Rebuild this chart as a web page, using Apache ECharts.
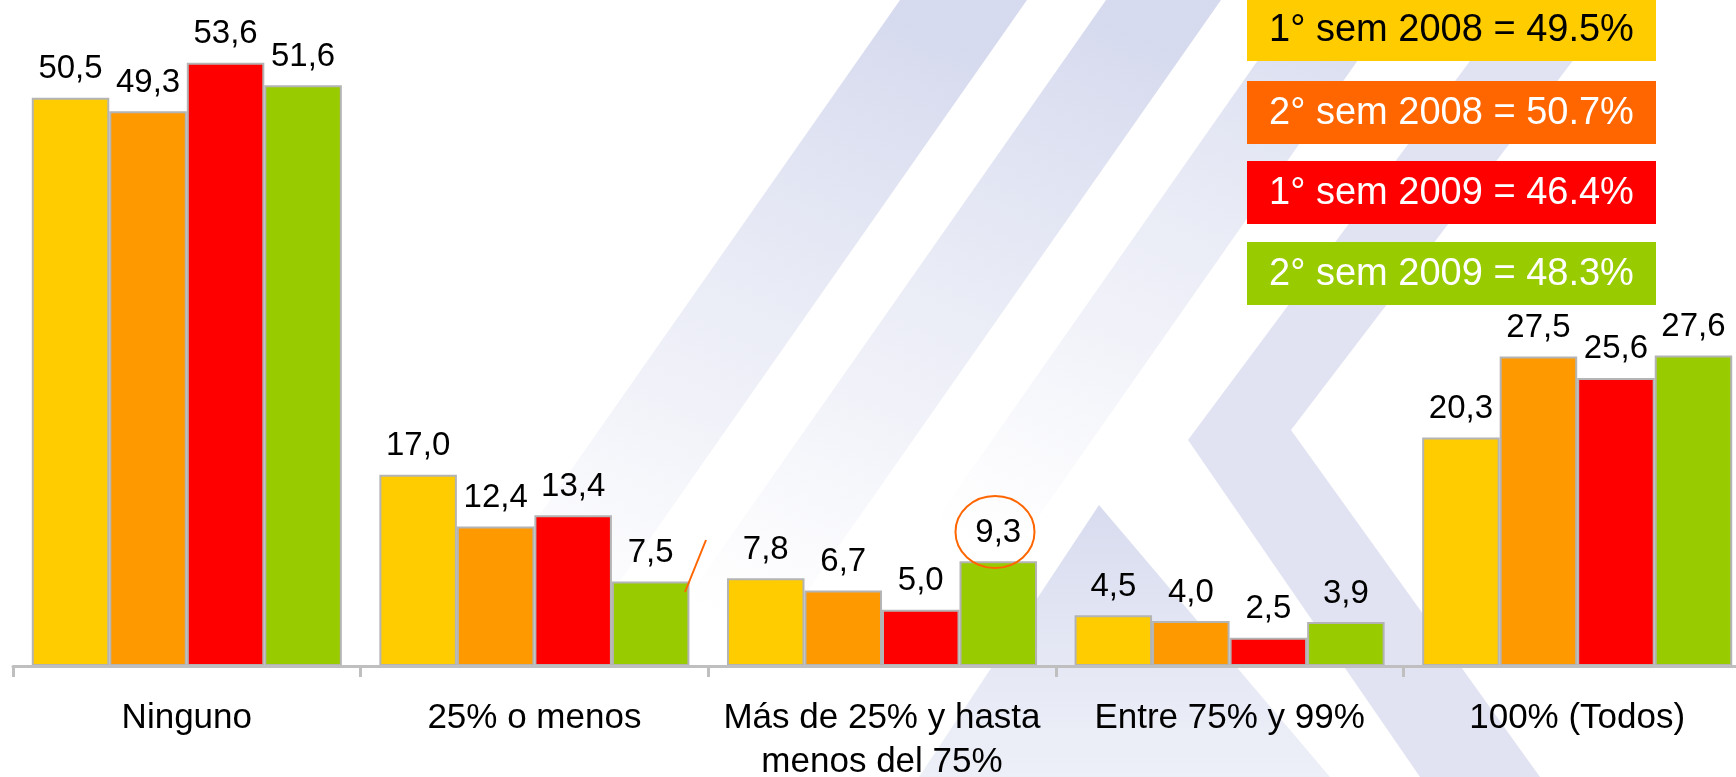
<!DOCTYPE html>
<html>
<head>
<meta charset="utf-8">
<script src="https://cdn.jsdelivr.net/npm/echarts@6/dist/echarts.min.js"></script>
<style>
html,body{margin:0;padding:0;background:#ffffff;overflow:hidden;}
#chart{width:1736px;height:777px;}
</style>
</head>
<body>
<div id="chart"></div>
<script>
// ---- data ----
const categories = ['Ninguno', '25% o menos', 'Más de 25% y hasta\nmenos del 75%', 'Entre 75% y 99%', '100% (Todos)'];
const seriesNames = ['1° sem 2008', '2° sem 2008', '1° sem 2009', '2° sem 2009'];
const sem1_2008 = [50.5, 17.0, 7.8, 4.5, 20.3];
const sem2_2008 = [49.3, 12.4, 6.7, 4.0, 27.5];
const sem1_2009 = [53.6, 13.4, 5.0, 2.5, 25.6];
const sem2_2009 = [51.6, 7.5, 9.3, 3.9, 27.6];
const averages = [49.5, 50.7, 46.4, 48.3];

// ---- styles ----
const barColors = ['#FFCC00', '#FF9900', '#FF0000', '#99CC00'];
const legendColors = ['#FFCC00', '#FF6600', '#FF0000', '#99CC00'];
const legendTextColors = ['#000000', '#ffffff', '#ffffff', '#ffffff'];
const FONT = '"Liberation Sans", Arial, sans-serif';

const seriesData = [sem1_2008, sem2_2008, sem1_2009, sem2_2009];

const chart = echarts.init(document.getElementById('chart'), null, {renderer: 'canvas'});

const series = seriesData.map((d, i) => ({
  name: seriesNames[i],
  type: 'bar',
  data: d,
  barGap: '0%',
  barCategoryGap: '10.8%',
  itemStyle: {color: barColors[i], borderColor: '#b4b4b4', borderWidth: 2},
  label: {
    show: true,
    position: 'top',
    distance: 12,
    fontFamily: FONT,
    fontSize: 33,
    color: '#000',
    formatter: p => p.value.toFixed(1).replace('.', ',')
  },
  emphasis: {disabled: true},
  z: 3
}));

// background watermark (decorative)
function fadeBand(a) {
  return {type: 'linear', x: 0.7, y: 0, x2: 0.2, y2: 1,
    colorStops: [{offset: 0, color: 'rgba(190,196,228,' + a + ')'}, {offset: 0.6, color: 'rgba(200,205,232,' + (a * 0.45) + ')'}, {offset: 1, color: 'rgba(210,214,236,0)'}]};
}
const k = 0.7; // slope of the bands
function band(x0, x1, yEnd) {
  return [[x0, 0], [x1, 0], [x1 - k * yEnd, yEnd], [x0 - k * yEnd, yEnd]];
}
const bg = [
  {type: 'polygon', shape: {points: band(900, 1027, 640)}, style: {fill: fadeBand(0.62)}},
  {type: 'polygon', shape: {points: band(1106, 1221, 640)}, style: {fill: fadeBand(0.62)}},
  {type: 'polygon', shape: {points: band(1300, 1400, 560)}, style: {fill: fadeBand(0.55)}},
  {type: 'polygon', shape: {points: [[1560,-60],[1665,-60],[1291,430],[1540,777],[1420,777],[1188,440]]}, style: {fill: 'rgba(195,200,230,0.5)'}},
  {type: 'polygon', shape: {points: [[1099,505],[1330,777],[919,777]]},
    style: {fill: {type: 'linear', x: 0, y: 0, x2: 0, y2: 1, colorStops: [{offset: 0, color: 'rgba(190,196,228,0.6)'}, {offset: 1, color: 'rgba(205,210,234,0.35)'}]}}}
].map(g => Object.assign(g, {z: -10, silent: true}));

// legend boxes built from names and averages
const legendBoxes = [];
const boxTop = [-2, 81, 161, 242];
seriesNames.forEach((n, i) => {
  legendBoxes.push({
    type: 'rect', z: 20,
    shape: {x: 1247, y: boxTop[i], width: 409, height: 63},
    style: {fill: legendColors[i]}
  });
  legendBoxes.push({
    type: 'text', z: 21,
    x: 1451.5, y: boxTop[i] + 33,
    style: {
      text: n + ' = ' + averages[i].toFixed(1) + '%',
      fill: legendTextColors[i],
      font: '38px ' + FONT,
      textAlign: 'center', textVerticalAlign: 'middle'
    }
  });
});

// annotations (orange circle around 9,3 and slash)
const annotations = [
  {type: 'ellipse', z: 22, shape: {cx: 995, cy: 532, rx: 39.5, ry: 36}, style: {fill: 'none', stroke: '#FF6600', lineWidth: 2}},
  {type: 'line', z: 22, shape: {x1: 706, y1: 540, x2: 685, y2: 592}, style: {stroke: '#FF6600', lineWidth: 2}}
];

chart.setOption({
  animation: false,
  backgroundColor: '#ffffff',
  grid: {left: 13, right: -15, top: 2, bottom: 111, containLabel: false, outerBoundsMode: 'none'},
  xAxis: {
    type: 'category',
    data: categories,
    axisLine: {show: true, lineStyle: {color: '#bfbfbf', width: 3}},
    axisTick: {show: true, length: 11, lineStyle: {color: '#bfbfbf', width: 3}},
    axisLabel: {
      margin: 30, fontFamily: FONT, fontSize: 35, color: '#000', lineHeight: 44,
      interval: 0, hideOverlap: false
    },
    z: 4
  },
  yAxis: {
    type: 'value', min: 0, max: 59,
    show: false,
    splitLine: {show: false}
  },
  series: series,
  graphic: bg.concat(legendBoxes, annotations)
});
</script>
</body>
</html>
